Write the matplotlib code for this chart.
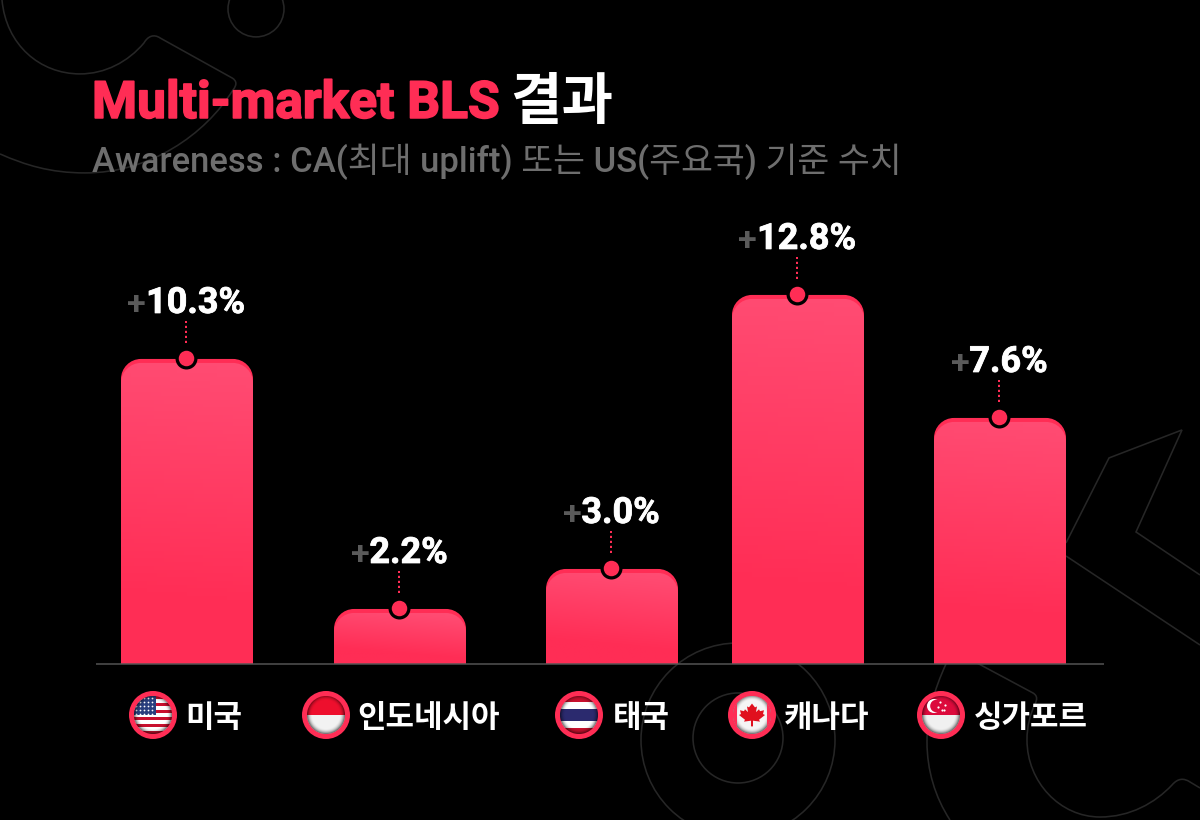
import numpy as np
import matplotlib
matplotlib.use('Agg')
import matplotlib.pyplot as plt
import matplotlib.patheffects as pe
from matplotlib.colors import LinearSegmentedColormap
from matplotlib.patches import Circle, PathPatch, Polygon, Rectangle
from matplotlib.path import Path

# values
countries = ['미국', '인도네시아', '태국', '캐나다', '싱가포르']
labels = ['10.3%', '2.2%', '3.0%', '12.8%', '7.6%']
# the bars are not to scale with the labels, so heights are kept on their own
heights = [305, 55, 95, 369, 246]
bar_x = [187, 400, 612, 798, 1000]
flag_x = [153, 326, 579, 752, 941]
name_x = [185, 357, 613, 784, 974]

RED = '#FF2D55'
FONT = ['Roboto', 'Noto Sans CJK KR']
PX = 0.72  # points per pixel at dpi 100
BASE = 664

fig = plt.figure(figsize=(12, 8.201), dpi=100, facecolor='black')

# background layer in pixel coordinates, y going down
bg = fig.add_axes([0, 0, 1, 1])
bg.set_xlim(0, 1200)
bg.set_ylim(820, 0)
bg.axis('off')

# chart layer, y=0 is the baseline
ax = fig.add_axes([0, 0, 1, 1])
ax.set_xlim(0, 1200)
ax.set_ylim(BASE - 820, BASE)
ax.axis('off')
ax.patch.set_alpha(0)


def deco(verts, codes=None):
    bg.add_patch(PathPatch(Path(verts, codes), fill=False, ec='#262626', lw=1.6 * PX))


for cx, cy, r in [(256, 9, 28), (738, 740, 97), (738, 738, 45)]:
    bg.add_patch(Circle((cx, cy), r, fill=False, ec='#262626', lw=1.6 * PX))

M, L, C = Path.MOVETO, Path.LINETO, Path.CURVE4
# top left blob
deco([(2, 0), (6, 45), (40, 74), (80, 74), (105, 74), (128, 62), (144, 43), (148, 36), (154, 34), (160, 38),
      (232, 78), (237, 81), (237, 85), (233, 90), (205, 135), (150, 173), (85, 173), (50, 173), (25, 165), (0, 154)],
     [M, C, C, C, C, C, C, C, C, C, L, C, C, C, C, C, C, C, C, C])
# right side arrow shapes
deco([(1066, 543), (1109, 458), (1182, 430), (1136, 532), (1200, 575)])
deco([(1066, 556), (1200, 645)])
# bottom right blob
deco([(977, 663), (1033, 693), (1038, 696), (1037, 700), (1035, 704), (1030, 715), (1027, 726), (1027, 740),
      (1027, 782), (1060, 817), (1100, 817), (1130, 817), (1155, 803), (1172, 785), (1178, 778), (1184, 778), (1190, 782), (1200, 788)],
     [M, L, C, C, C, C, C, C, C, C, C, C, C, C, C, C, C, L])
deco([(946, 664), (934, 690), (927, 715), (927, 742), (927, 770), (935, 797), (950, 820)],
     [M, C, C, C, C, C, C])

# title and subtitle
bg.text(92, 118, 'Multi-market BLS', color=RED, fontsize=51.5 * PX, fontweight='bold', family=FONT, va='baseline',
        path_effects=[pe.withStroke(linewidth=1.2, foreground=RED)])
bg.text(510, 119, '결과', color='white', fontsize=56 * PX, fontweight='black', family=FONT, va='baseline')
bg.text(92, 172, 'Awareness : CA(최대 uplift) 또는 US(주요국) 기준 수치', color='#6E6E6E', fontsize=34.7 * PX,
        fontweight='medium', family=FONT, va='baseline')

grad = LinearSegmentedColormap.from_list('bar', ['#FF4B72', '#FF2D55'])


def bar_path(x0, x1, top, r=20):
    k = r * 0.45
    return Path([(x0, 0), (x0, top - r), (x0, top - k), (x0 + k, top), (x0 + r, top), (x1 - r, top),
                 (x1 - k, top), (x1, top - k), (x1, top - r), (x1, 0), (x0, 0)],
                [M, L, C, C, C, L, C, C, C, L, Path.CLOSEPOLY])


# bars
w = 132
white_heavy = [pe.withStroke(linewidth=0.6, foreground='white')]
for x, h, lab in zip(bar_x, heights, labels):
    x0, x1 = x - w / 2, x + w / 2
    ax.add_patch(PathPatch(bar_path(x0, x1, h), fc=RED, ec='none', zorder=2))
    yy, xx = np.mgrid[0:1:80j, 0:1:40j]
    t = np.clip((yy * 1.25 - 0.12 * (xx - 0.5) * 132 / max(h, 60)), 0, 1)
    im = ax.imshow(t, cmap=grad, vmin=0, vmax=1, extent=(x0, x1, 0, h - 4), origin='upper', aspect='auto', zorder=3)
    inner = PathPatch(bar_path(x0, x1, h - 4), transform=ax.transData, fc='none', ec='none')
    ax.add_patch(inner)
    im.set_clip_path(inner)
    # dot on top of the bar, dotted stem and label
    ax.plot([x - 1, x - 1], [h + 16, h + 38], color=RED, lw=2 * PX, ls=(0, (1.1, 1.4)), zorder=4)
    ax.scatter([x - 1], [h + 1], s=(22 * PX) ** 2, color='black', zorder=5, linewidths=0)
    ax.scatter([x - 1], [h + 1], s=(15.5 * PX) ** 2, color=RED, zorder=6, linewidths=0)
    num = ax.text(x + 8.5, h + 46, lab, color='white', fontsize=36 * PX, fontweight='bold', family=FONT,
                  ha='center', va='baseline', zorder=6, path_effects=white_heavy)
    ax.annotate('+', xy=(0, 0), xycoords=num, xytext=(0, 0), textcoords='offset points', color='#5A5A5A',
                fontsize=34 * PX, fontweight='bold', family=FONT, ha='right', va='bottom', zorder=6)

ax.plot([96, 1104], [0, 0], color='#555555', lw=1.5 * PX, zorder=7, solid_capstyle='butt')
ax.set_xlim(0, 1200)
ax.set_ylim(BASE - 820, BASE)

# flag layer
fl = fig.add_axes([0, 0, 1, 1])
fl.set_xlim(0, 1200)
fl.set_ylim(820, 0)
fl.axis('off')
fl.patch.set_alpha(0)
FY = 715
R = 19


def stripes(x, clip, bands):
    for y0, y1, col in bands:
        p = Rectangle((x - R, FY - R + y0 * 2 * R), 2 * R, (y1 - y0) * 2 * R, fc=col, ec='none', zorder=3)
        fl.add_patch(p)
        p.set_clip_path(clip)


def flag_us(x, clip):
    n = 11
    bands = [(i / n, (i + 1) / n, '#C8102E' if i % 2 == 0 else 'white') for i in range(n)]
    stripes(x, clip, bands)
    p = Rectangle((x - R, FY - R), R * 1.15, R * 1.0, fc='#2A3F7E', ec='none', zorder=4)
    fl.add_patch(p)
    p.set_clip_path(clip)
    sx, sy = np.meshgrid(np.arange(x - 17, x + 3, 4.0), np.arange(FY - 17, FY, 4.0))
    s = fl.scatter(sx.ravel(), sy.ravel(), s=1.6, color='white', linewidths=0, zorder=5)
    s.set_clip_path(clip)


def flag_id(x, clip):
    stripes(x, clip, [(0, 0.5, '#EE0F2D'), (0.5, 1, '#F2F2F2')])


def flag_th(x, clip):
    stripes(x, clip, [(0, 1 / 6, '#C8102E'), (1 / 6, 2 / 6, 'white'), (2 / 6, 4 / 6, '#2B2A6E'),
                      (4 / 6, 5 / 6, 'white'), (5 / 6, 1, '#C8102E')])


def flag_ca(x, clip):
    stripes(x, clip, [(0, 1, '#F5F5F5')])
    # red side bands of the flag melt into the ring
    for bx in (x - R, x + R - 4):
        p = Rectangle((bx, FY - R), 4, 2 * R, fc=RED, ec='none', zorder=7)
        fl.add_patch(p)
        p.set_clip_path(clip)
    leaf = [(0, -12), (3, -8), (5, -9), (4, -3), (7, -6), (8, -4), (12, -5), (11, -1), (13, 0), (7, 5), (8, 7),
            (1, 6), (1, 12), (-1, 12), (-1, 6), (-8, 7), (-7, 5), (-13, 0), (-11, -1), (-12, -5), (-8, -4),
            (-7, -6), (-4, -3), (-5, -9), (-3, -8)]
    p = Polygon([(x + a, FY + b * 0.95) for a, b in leaf], closed=True, fc='#E0101E', ec='none', zorder=4)
    fl.add_patch(p)
    p.set_clip_path(clip)


def flag_sg(x, clip):
    stripes(x, clip, [(0, 0.5, '#DC0A3C'), (0.5, 1, '#F0F0F0')])
    fl.add_patch(Circle((x - 7, FY - 9), 7, fc='white', ec='none', zorder=7))
    fl.add_patch(Circle((x - 4.5, FY - 9), 6.3, fc='#DC0A3C', ec='none', zorder=7))
    fl.scatter([x - 1, x + 4, x + 3, x - 3, x + 1], [FY - 13, FY - 10, FY - 5, FY - 8, FY - 5], s=2.5, color='white',
               linewidths=0, zorder=7)


# soft dark rim over every flag, like a glossy button
yy, xx = np.mgrid[-1:1:80j, -1:1:80j]
rr = np.sqrt(xx ** 2 + yy ** 2)
rim = np.zeros((80, 80, 4))
rim[..., 3] = np.clip((rr - 0.72) / 0.28, 0, 1) ** 2 * 0.55

for x, draw, name, nx in zip(flag_x, [flag_us, flag_id, flag_th, flag_ca, flag_sg], countries, name_x):
    fl.add_patch(Circle((x, FY), 24, fc=RED, ec='none', zorder=2))
    clip = Circle((x, FY), R, transform=fl.transData, fc='none', ec='none')
    fl.add_patch(clip)
    draw(x, clip)
    im = fl.imshow(rim, extent=(x - R, x + R, FY + R, FY - R), aspect='auto', zorder=6)
    im.set_clip_path(clip)
    fl.text(nx, FY + 12, name, color='white', fontsize=31 * PX, fontweight='black', family=FONT, va='baseline')

fl.set_xlim(0, 1200)
fl.set_ylim(820, 0)

fig.savefig('out.png', dpi=100, facecolor='black')
